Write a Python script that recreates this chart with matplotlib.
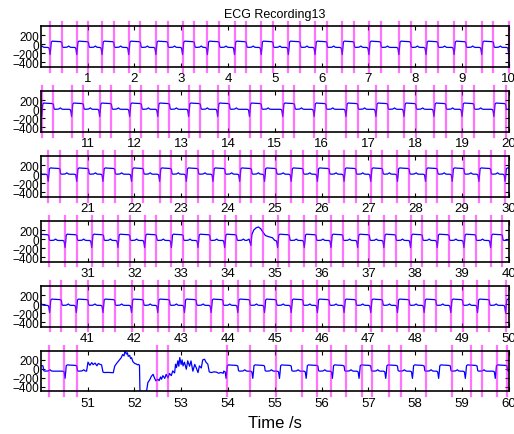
import numpy as np
import matplotlib.pyplot as plt

plt.rcParams['font.family'] = ['Liberation Sans', 'DejaVu Sans']

# R-peak times (s, relative to row start)
r_times = [
    [-0.37, 0.20, 0.77, 1.31, 1.88, 2.46, 3.03, 3.56, 4.14, 4.71, 5.29, 5.86, 6.44, 7.01, 7.65, 8.23, 8.83, 9.42, 10.0],
    [-0.60, 0.02, 0.66, 1.26, 1.90, 2.50, 3.16, 3.78, 4.46, 5.17, 5.84, 6.52, 7.16, 7.76, 8.40, 9.00, 9.68],
    [-0.42, 0.16, 0.77, 1.33, 1.94, 2.54, 3.11, 3.68, 4.25, 4.78, 5.35, 5.91, 6.48, 7.05, 7.62, 8.22, 8.79, 9.36, 9.92],
    [-0.08, 0.52, 1.09, 1.65, 2.22, 2.79, 3.36, 3.93, 5.06, 5.63, 6.20, 6.77, 7.33, 7.90, 8.47, 9.04, 9.61],
    [-0.38, 0.19, 0.76, 1.33, 1.94, 2.50, 3.07, 3.64, 4.21, 4.78, 5.35, 5.91, 6.48, 7.05, 7.62, 8.19, 8.76, 9.33, 9.93],
    [-0.20, 0.52, 3.96, 4.53, 5.10, 5.67, 6.23, 6.80, 7.37, 7.94, 8.50, 9.07, 9.71],
]
# baseline level of each row
baselines = [-67, 0, 0, -30, -30, -50]

# one beat as drawn (time from R, value above baseline)
beat_t = [-0.05, -0.02, 0.0, 0.012, 0.025, 0.05, 0.10, 0.16, 0.22, 0.25, 0.265, 0.29, 0.36, 0.40, 0.43, 0.46]
beat_v = [0, -15, -160, -40, 120, 140, 135, 132, 128, 115, 10, 0, 5, 30, 5, 0]

# odd beat in row 4 (around 34.5 s)
odd_t = [4.40, 4.45, 4.49, 4.51, 4.55, 4.60, 4.65, 4.70, 4.75, 4.80, 4.85, 4.95, 5.00]
odd_v = [-30, 0, -140, 100, 200, 250, 270, 230, 150, 80, 60, 30, -30]

# motion artefact in the last row (51 s - 54 s)
artefact_t = [1.01, 1.05, 1.09, 1.12, 1.16, 1.20, 1.23, 1.27, 1.30, 1.33, 1.36, 1.45, 1.55, 1.58, 1.62, 1.65, 1.69,
              1.72, 1.75, 1.78, 1.80, 1.83, 1.85, 1.87, 1.90, 1.92, 1.94, 1.97, 2.01, 2.04, 2.07, 2.09, 2.11, 2.12,
              2.26, 2.29, 2.33, 2.36, 2.40, 2.43, 2.46, 2.50, 2.53, 2.56, 2.58, 2.61, 2.65, 2.68, 2.72, 2.75, 2.79,
              2.82, 2.86, 2.88, 2.90, 2.93, 2.95, 2.97, 3.00, 3.02, 3.04, 3.07, 3.11, 3.14, 3.18, 3.21, 3.25, 3.29,
              3.32, 3.36, 3.39, 3.43, 3.46, 3.50, 3.53, 3.57, 3.60, 3.64, 3.70, 3.75, 3.80, 3.85, 3.90]
artefact_v = [150, 80, 140, 95, 130, 70, 120, 100, 90, -70, -80, -78, -85, 60, 120, 160, 215, 250, 320, 290, 400,
              330, 360, 280, 300, 230, 250, 160, 120, 110, 90, 100, 80, -500, -500, -300, -240, -170, -120, -200,
              -265, -230, -260, -180, -229, -150, -210, -120, -200, -100, -150, -44, -90, 104, 30, 180, 60, 252,
              100, 200, 67, 150, -7, 180, 60, 178, -50, 100, 30, -81, 67, 20, 200, 215, 150, 104, -66, -81,
              -66, -70, -96, -80, -96]
last_row_marks = [0.18, 0.50, 0.77, 2.48, 2.71, 3.97, 4.46, 5.03, 5.59, 5.91, 6.20, 6.52, 6.86, 7.08, 7.44,
                  7.69, 8.23, 8.78, 9.19, 9.42, 9.74, 9.96]
row4_extra_marks = [4.49, 4.74]
mark_offset = 0.25

fig = plt.figure(figsize=(5.14, 4.35), dpi=100)
left, width = 0.0792, 0.9108
height = 0.0931
tops = [0.937 - i * 0.1492 for i in range(6)]

for i in range(6):
    ax = fig.add_axes([left, tops[i] - height, width, height])
    t0 = 10 * i
    pts = []
    for r in r_times[i]:
        for dt, v in zip(beat_t, beat_v):
            pts.append((r + dt, baselines[i] + v))
    if i == 3:
        pts += list(zip(odd_t, odd_v))
    if i == 5:
        pts += list(zip(artefact_t, artefact_v))
    pts.sort()
    t = np.array([p[0] for p in pts]) + t0
    y = np.array([p[1] for p in pts])
    ax.plot(t, y, color='#0000ff', lw=0.9)

    if i < 5:
        marks = sorted(r_times[i] + [r + mark_offset for r in r_times[i]])
        if i == 3:
            marks += row4_extra_marks
    else:
        marks = last_row_marks
    for m in marks:
        if 0 <= m <= 10:
            ax.axvline(t0 + m, ymin=-0.12, ymax=1.12, color='#ff00ff', alpha=0.55,
                       lw=1.6, clip_on=False)

    ax.set_xlim(t0, t0 + 10)
    ax.set_ylim(-500, 400)
    ax.set_xticks(np.arange(t0 + 1, t0 + 11))
    ax.set_xticklabels([str(k) for k in range(t0 + 1, t0 + 11)])
    ax.set_yticks([-400, -200, 0, 200])
    ax.tick_params(direction='in', top=True, right=True, length=3, width=0.8, labelsize=9.5, pad=4)
    ax.tick_params(axis='y', labelsize=8.5, pad=1)
    for s in ax.spines.values():
        s.set_linewidth(1.2)
    if i == 0:
        ax.set_title('ECG Recording13', fontsize=9, pad=7)
    if i == 5:
        ax.set_xlabel('Time /s', fontsize=12, labelpad=4)

plt.savefig('out.png', dpi=100)
